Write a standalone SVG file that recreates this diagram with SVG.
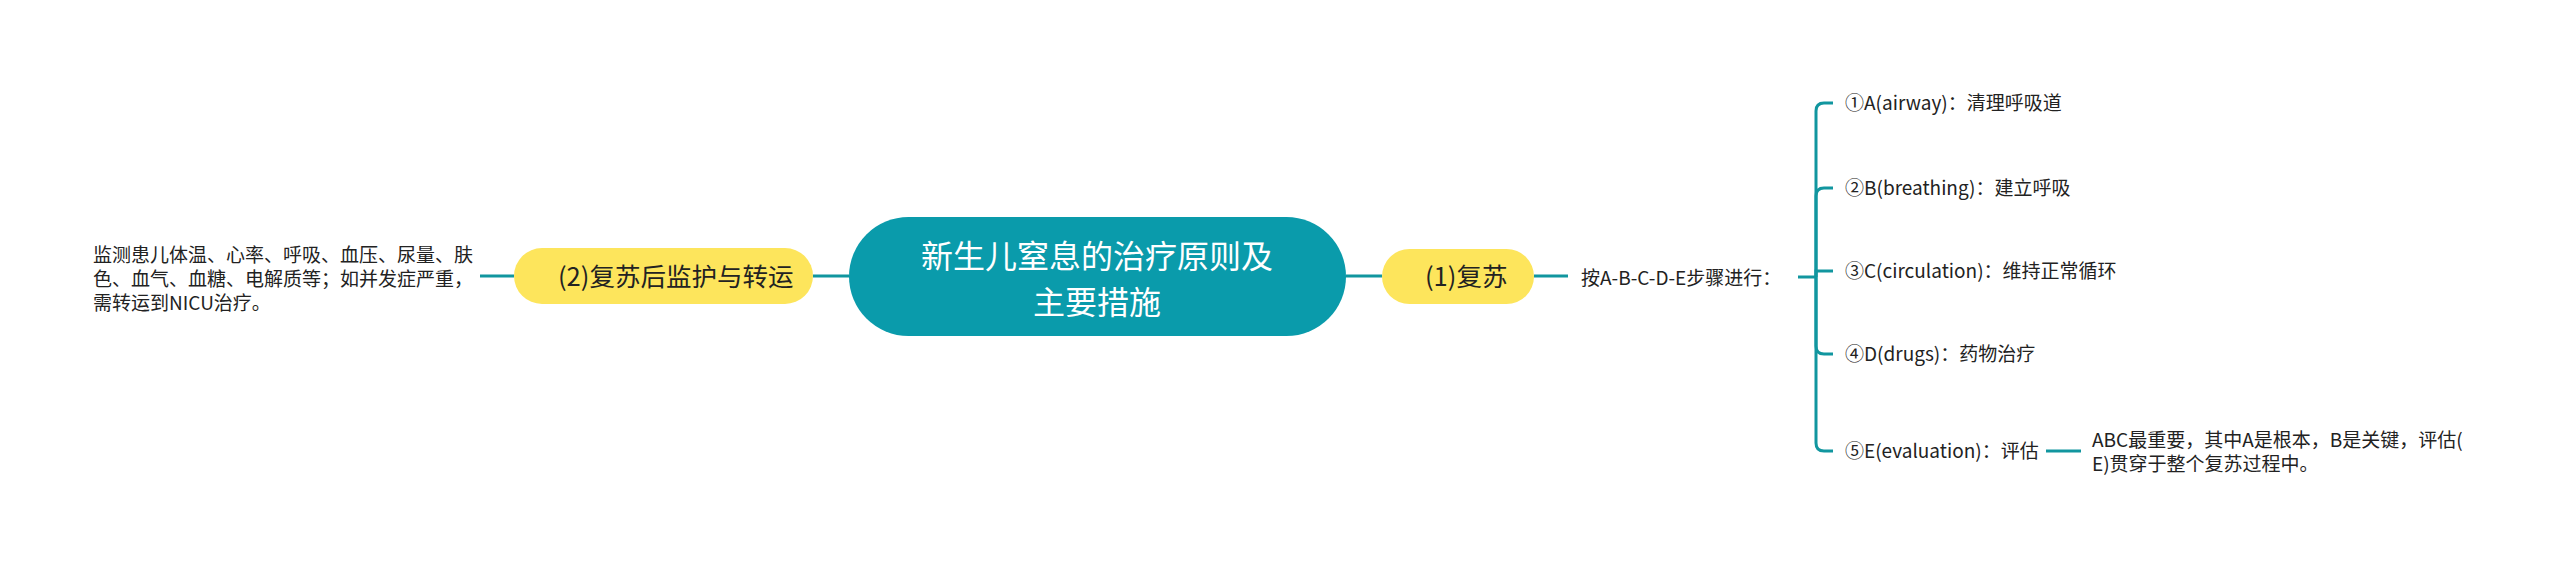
<svg xmlns="http://www.w3.org/2000/svg" width="2560" height="566" viewBox="0 0 2560 566">
<style>
text{font-family:"Noto Sans CJK SC","Noto Sans",sans-serif;fill:#222}
.c{stroke:#11969f;stroke-width:3;fill:none}
.root{fill:#0a9bab}
.sub{fill:#fde55c}
.rt{font-size:32px;fill:#fff;text-anchor:middle}
.st{font-size:25.5px}
.t{font-size:19px}
</style>
<rect width="2560" height="566" fill="#fff"/>
<g id="connectors">
<path class="c" d="M480,276H514"/>
<path class="c" d="M813,276H849"/>
<path class="c" d="M1346,276H1382"/>
<path class="c" d="M1534,276H1568"/>
<path class="c" d="M1798,277H1816"/>
<path class="c" d="M1816,277V111Q1816,103 1824,103H1833"/>
<path class="c" d="M1816,277V196Q1816,188 1824,188H1833"/>
<path class="c" d="M1816,277V271H1833"/>
<path class="c" d="M1816,277V346Q1816,354 1824,354H1833"/>
<path class="c" d="M1816,277V443Q1816,451 1824,451H1833"/>
<path class="c" d="M2046,451H2081"/>
</g>
<g id="root">
<rect class="root" x="849" y="217" width="497" height="119" rx="59.5"/>
<text class="rt" x="1097" y="268">新生儿窒息的治疗原则及</text>
<text class="rt" x="1097" y="314">主要措施</text>
</g>
<g id="n2">
<rect class="sub" x="514" y="248" width="299" height="56" rx="28"/>
<text class="st" x="558" y="286">(2)复苏后监护与转运</text>
</g>
<g id="n2a">
<text class="t" x="93" y="262">监测患儿体温、心率、呼吸、血压、尿量、肤</text>
<text class="t" x="93" y="286">色、血气、血糖、电解质等；如并发症严重，</text>
<text class="t" x="93" y="310">需转运到NICU治疗。</text>
</g>
<g id="n1">
<rect class="sub" x="1382" y="249" width="152" height="55" rx="27.5"/>
<text class="st" x="1425" y="286">(1)复苏</text>
</g>
<g id="n1a">
<text class="t" x="1581" y="285">按A-B-C-D-E步骤进行：</text>
</g>
<g id="a"><text class="t" x="1845" y="110">①A(airway)：清理呼吸道</text></g>
<g id="b"><text class="t" x="1845" y="195">②B(breathing)：建立呼吸</text></g>
<g id="c"><text class="t" x="1845" y="278">③C(circulation)：维持正常循环</text></g>
<g id="d"><text class="t" x="1845" y="361">④D(drugs)：药物治疗</text></g>
<g id="e"><text class="t" x="1845" y="458">⑤E(evaluation)：评估</text></g>
<g id="e1">
<text class="t" x="2092" y="447">ABC最重要，其中A是根本，B是关键，评估(</text>
<text class="t" x="2092" y="471">E)贯穿于整个复苏过程中。</text>
</g>
</svg>
